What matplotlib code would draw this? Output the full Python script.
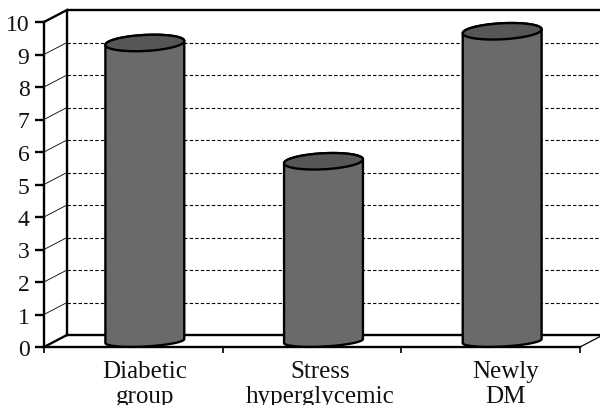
#cilindri 3D finti disegnati su assi normali
import numpy as np
import matplotlib
matplotlib.use('Agg')
import matplotlib.pyplot as plt
from matplotlib.patches import Polygon
from matplotlib.transforms import Affine2D, IdentityTransform

plt.rcParams['font.family'] = ['Liberation Serif', 'DejaVu Serif']

categorie = ['Diabetic\ngroup', 'Stress\nhyperglycemic', 'Newly\nDM']
valori = [9.17, 5.53, 9.53]
tick_y = list(range(0, 11))

fig = plt.figure(figsize=(6, 4.06), dpi=100)
ax = fig.add_axes([44 / 600, (406 - 348) / 406, 536 / 600, 325 / 406])
ax.set_xlim(0, 3)
ax.set_ylim(0, 10)
ax.patch.set_visible(False)

#spostamento in pixel del piano di fondo
dx, dy = 23, 12
fondo = ax.transData + Affine2D().translate(dx, dy)
centro = ax.transData + Affine2D().translate(dx / 2, dy / 2)

for s in ['top', 'right']:
    ax.spines[s].set_visible(False)
ax.spines['left'].set_linewidth(1.7)
ax.spines['bottom'].set_linewidth(1.7)

ax.set_yticks(tick_y)
ax.set_yticklabels(tick_y, fontsize=17, color='#111111')
ax.set_xticks(range(0, 4))
ax.set_xticklabels([])
ax.tick_params(axis='y', length=6.5, width=1.7, pad=4)
ax.tick_params(axis='x', length=4, width=1.2)

#griglia tratteggiata sul fondo e linee di profondita a sinistra
for y in tick_y[1:-1]:
    ax.plot([0, 3], [y, y], transform=fondo, color='black', lw=0.8,
            ls=(0, (3, 2)), clip_on=False, zorder=1)
    xa, ya = ax.transData.transform((0, y))
    ax.plot([xa, xa + dx], [ya, ya + dy], transform=IdentityTransform(),
            color='black', lw=0.6, clip_on=False, zorder=1)

#contorno delle pareti
ax.plot([0, 0, 3], [0, 10, 10], transform=fondo, color='black', lw=1.7,
        clip_on=False, zorder=1)
ax.plot([0, 3], [0, 0], transform=fondo, color='black', lw=1.7,
        clip_on=False, zorder=1)
for xv, yv, lw in [(0, 0, 1.7), (0, 10, 1.7), (3, 0, 0.9)]:
    xa, ya = ax.transData.transform((xv, yv))
    ax.plot([xa, xa + dx], [ya, ya + dy], transform=IdentityTransform(),
            color='black', lw=lw, clip_on=False, zorder=1)

#cilindri
largh, alt, incl = 39.5, 8, np.radians(3)


def ellisse(cx, cy, t, a=alt):
    ex = largh * np.cos(t)
    ey = a * np.sin(t)
    return np.column_stack([cx + ex * np.cos(incl) - ey * np.sin(incl),
                            cy + ex * np.sin(incl) + ey * np.cos(incl)])


#piccolo aggiustamento orizzontale delle etichette, in pixel
sposta_testo = [0, -3, 3]

for i, v in enumerate(valori):
    cx, cy_alto = centro.transform((i + 0.5, v))
    _, cy_basso = centro.transform((i + 0.5, 0))
    t_basso = np.linspace(np.pi, 2 * np.pi, 60)
    t_alto = np.linspace(0, np.pi, 60)
    corpo = np.vstack([ellisse(cx, cy_basso, t_basso, 5.5),
                       ellisse(cx, cy_alto, t_alto)])
    ax.add_patch(Polygon(corpo, closed=True, transform=IdentityTransform(),
                         facecolor='#6a6a6a', edgecolor='black', lw=1.7,
                         clip_on=False, zorder=3))
    cap = ellisse(cx, cy_alto, np.linspace(0, 2 * np.pi, 120))
    ax.add_patch(Polygon(cap, closed=True, transform=IdentityTransform(),
                         facecolor='#565656', edgecolor='black', lw=1.7,
                         clip_on=False, zorder=4))
    #etichetta sotto il cilindro
    ax.text(i + 0.5, 0, categorie[i],
            transform=centro + Affine2D().translate(sposta_testo[i], -dy / 2 - 13),
            ha='center', va='top', fontsize=18, linespacing=1.2, clip_on=False,
            color='#111111')

fig.savefig('out.png', dpi=100)
